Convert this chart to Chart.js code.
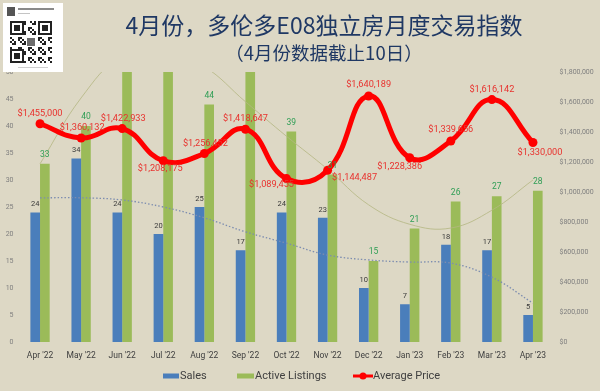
<!DOCTYPE html>
<html>
<head>
<meta charset="utf-8">
<script src="https://cdn.jsdelivr.net/npm/chart.js@4.4.1/dist/chart.umd.min.js"></script>
<style>
  html, body { margin: 0; padding: 0; background: #ddd8c5; }
  #wrap { width: 600px; height: 391px; }
</style>
</head>
<body>
<div id="wrap"><canvas id="chart" width="600" height="391"></canvas></div>
<script>
// Data
const months = ["Apr '22", "May '22", "Jun '22", "Jul '22", "Aug '22", "Sep '22", "Oct '22",
  "Nov '22", "Dec '22", "Jan '23", "Feb '23", "Mar '23", "Apr '23"];
const sales = [24, 34, 24, 20, 25, 17, 24, 23, 10, 7, 18, 17, 5];
// Jun, Jul, Sep run past the top of the axis (labels hidden), values estimated
const activeListings = [33, 40, 55, 54, 44, 52, 39, 31, 15, 21, 26, 27, 28];
const avgPrice = [1455000, 1360132, 1422933, 1208175, 1256452, 1418647, 1089455,
  1144487, 1640189, 1228386, 1339656, 1616142, 1330000];
// polynomial trendlines
const salesTrend = [26.7, 26.7, 26.3, 25, 23, 20.4, 18.3, 16.1, 15.2, 14.8, 14.6, 12, 7.2];
const listingsTrend = [33, 45.2, 53, 54, 51, 44.5, 38.1, 32, 25.4, 21.8, 21.1, 24.4, 30];
const countTicks = [0, 5, 10, 15, 20, 25, 30, 35, 40, 45, 50];
const priceTicks = [0, 200000, 400000, 600000, 800000, 1000000, 1200000, 1400000, 1600000, 1800000];

// Colors
const colors = {
  bg: '#ddd8c5',
  blue: '#4a7ebb',
  green: '#9bbb59',
  red: '#ff0000',
  priceText: '#e8322e',
  greenText: '#2f9e55',
  darkText: '#3a3a3a',
  axisText: '#7f7f7f',
  title: '#1f3864'
};

const fontFamily = "Roboto, 'Liberation Sans', sans-serif";

// where each price label sits relative to its point (dx, dy)
const priceLabelOffsets = [[0, -10], [1, -10], [1, -10], [-3, 8], [1, -10], [0, -11], [-15, 6],
  [27, 7], [0, -11], [-10, 9], [0, -11], [0, -10], [7, 10]];

const fmtMoney = v => '$' + Number(v).toLocaleString('en-US');

const backgroundPlugin = {
  id: 'background',
  beforeDraw(chart) {
    const ctx = chart.ctx;
    ctx.save();
    ctx.fillStyle = colors.bg;
    ctx.fillRect(0, 0, chart.width, chart.height);
    ctx.restore();
  }
};

const valueLabels = {
  id: 'valueLabels',
  afterDatasetsDraw(chart) {
    const ctx = chart.ctx;
    const top = chart.chartArea.top;
    ctx.save();
    ctx.textAlign = 'center';
    ctx.textBaseline = 'middle';

    // bar labels
    const barSets = [
      { index: 0, color: colors.darkText, size: 7.5, gap: 8 },
      { index: 1, color: colors.greenText, size: 8.5, gap: 9 }
    ];
    barSets.forEach(s => {
      const meta = chart.getDatasetMeta(s.index);
      const data = chart.data.datasets[s.index].data;
      ctx.fillStyle = s.color;
      ctx.font = s.size + 'px ' + fontFamily;
      meta.data.forEach((bar, i) => {
        if (bar.y < top) return; // Excel hides labels of bars past the axis
        ctx.fillText(data[i], bar.x, bar.y - s.gap);
      });
    });

    // price labels
    const meta = chart.getDatasetMeta(2);
    ctx.fillStyle = colors.priceText;
    ctx.font = '9.2px ' + fontFamily;
    meta.data.forEach((pt, i) => {
      const off = priceLabelOffsets[i];
      ctx.fillText(fmtMoney(avgPrice[i]), pt.x + off[0], pt.y + off[1]);
    });
    ctx.restore();
  }
};

function drawQrCard(ctx) {
  ctx.save();
  ctx.fillStyle = '#ffffff';
  ctx.fillRect(3, 3, 60, 69);
  // avatar + name lines
  ctx.fillStyle = '#555555';
  ctx.fillRect(7, 7, 8, 9);
  ctx.fillStyle = '#8a8a8a';
  ctx.fillRect(18, 8, 36, 2);
  ctx.fillStyle = '#c4c4c4';
  ctx.fillRect(18, 13, 12, 1);
  // code block
  const x0 = 10, y0 = 21, n = 21, m = 2;
  ctx.fillStyle = '#222222';
  for (let r = 0; r < n; r++) {
    for (let c = 0; c < n; c++) {
      const inFinder = (r < 7 && c < 7) || (r < 7 && c >= n - 7) || (r >= n - 7 && c < 7);
      if (inFinder) continue;
      if (((r * 7 + c * 13 + r * c) % 5) < 2) ctx.fillRect(x0 + c * m, y0 + r * m, m, m);
    }
  }
  [[0, 0], [n - 7, 0], [0, n - 7]].forEach(([c, r]) => {
    const fx = x0 + c * m, fy = y0 + r * m;
    ctx.fillStyle = '#222222';
    ctx.fillRect(fx, fy, 7 * m, 7 * m);
    ctx.fillStyle = '#ffffff';
    ctx.fillRect(fx + m, fy + m, 5 * m, 5 * m);
    ctx.fillStyle = '#222222';
    ctx.fillRect(fx + 2 * m, fy + 2 * m, 3 * m, 3 * m);
  });
  // small photo in the middle
  ctx.fillStyle = '#ffffff';
  ctx.fillRect(x0 + 8 * m, y0 + 8 * m, 5 * m, 5 * m);
  ctx.fillStyle = '#6b6b6b';
  ctx.fillRect(x0 + 8.5 * m, y0 + 8.5 * m, 4 * m, 4 * m);
  // caption
  ctx.fillStyle = '#cfcfcf';
  ctx.fillRect(18, 67, 30, 1);
  ctx.restore();
}

const decorations = {
  id: 'decorations',
  afterDraw(chart) {
    const ctx = chart.ctx;
    ctx.save();
    // titles
    ctx.fillStyle = colors.title;
    ctx.textAlign = 'center';
    ctx.textBaseline = 'middle';
    ctx.font = "23px 'Noto Sans CJK SC', sans-serif";
    ctx.fillText('4月份，多伦多E08独立房月度交易指数', 324, 25);
    ctx.font = "18.5px 'Noto Sans CJK SC', sans-serif";
    ctx.fillText('（4月份数据截止10日）', 324, 53);

    // legend
    const ly = 376;
    ctx.textAlign = 'left';
    ctx.font = '11px ' + fontFamily;
    ctx.fillStyle = colors.blue;
    ctx.fillRect(163, ly - 2.5, 16, 5);
    ctx.fillStyle = colors.green;
    ctx.fillRect(237, ly - 2.5, 17, 5);
    ctx.strokeStyle = colors.red;
    ctx.lineWidth = 3;
    ctx.beginPath();
    ctx.moveTo(353, ly);
    ctx.lineTo(373, ly);
    ctx.stroke();
    ctx.fillStyle = colors.red;
    ctx.beginPath();
    ctx.arc(363, ly, 3.5, 0, Math.PI * 2);
    ctx.fill();
    ctx.fillStyle = '#404040';
    ctx.fillText('Sales', 180, ly);
    ctx.fillText('Active Listings', 255, ly);
    ctx.fillText('Average Price', 373, ly);
    ctx.restore();

    drawQrCard(ctx);
  }
};

new Chart(document.getElementById('chart'), {
  data: {
    labels: months,
    datasets: [
      {
        type: 'bar',
        label: 'Sales',
        data: sales,
        backgroundColor: colors.blue,
        yAxisID: 'y',
        categoryPercentage: 0.47,
        barPercentage: 1.0,
        order: 3
      },
      {
        type: 'bar',
        label: 'Active Listings',
        data: activeListings,
        backgroundColor: colors.green,
        yAxisID: 'y',
        categoryPercentage: 0.47,
        barPercentage: 1.0,
        order: 3
      },
      {
        type: 'line',
        label: 'Average Price',
        data: avgPrice,
        borderColor: colors.red,
        backgroundColor: colors.red,
        borderWidth: 5,
        pointRadius: 4.5,
        pointBackgroundColor: colors.red,
        pointBorderWidth: 0,
        tension: 0.45,
        yAxisID: 'y1',
        order: 0
      },
      {
        type: 'line',
        label: 'Sales trend',
        data: salesTrend,
        borderColor: '#7d8db0',
        borderWidth: 1.3,
        borderDash: [1.5, 2],
        pointRadius: 0,
        tension: 0.4,
        yAxisID: 'y',
        order: 1
      },
      {
        type: 'line',
        label: 'Listings trend',
        data: listingsTrend,
        borderColor: 'rgba(180, 182, 130, 0.8)',
        borderWidth: 1,
        pointRadius: 0,
        tension: 0.4,
        yAxisID: 'y',
        order: 1
      }
    ]
  },
  options: {
    responsive: false,
    animation: false,
    layout: { padding: { top: 72, left: 0, right: 0, bottom: 0 } },
    plugins: {
      legend: { display: false },
      title: { display: false },
      tooltip: { enabled: false }
    },
    scales: {
      x: {
        grid: { display: false, drawTicks: false },
        border: { display: false },
        ticks: {
          color: '#404040',
          font: { family: fontFamily, size: 8.5 },
          padding: 9,
          maxRotation: 0,
          autoSkip: false
        },
        afterFit(scale) { scale.height = 49; }
      },
      y: {
        position: 'left',
        min: 0,
        max: 50,
        afterBuildTicks(scale) { scale.ticks = countTicks.map(v => ({ value: v })); },
        grid: { display: false, drawTicks: false },
        border: { display: false },
        ticks: { color: colors.axisText, font: { family: fontFamily, size: 7 }, padding: 6 },
        afterFit(scale) { scale.width = 19.5; }
      },
      y1: {
        position: 'right',
        min: 0,
        max: 1800000,
        afterBuildTicks(scale) { scale.ticks = priceTicks.map(v => ({ value: v })); },
        grid: { display: false, drawTicks: false },
        border: { display: false },
        ticks: {
          color: colors.axisText,
          font: { family: fontFamily, size: 7 },
          padding: 6,
          callback: v => fmtMoney(v)
        },
        afterFit(scale) { scale.width = 46.5; }
      }
    }
  },
  plugins: [backgroundPlugin, valueLabels, decorations]
});
</script>
</body>
</html>
